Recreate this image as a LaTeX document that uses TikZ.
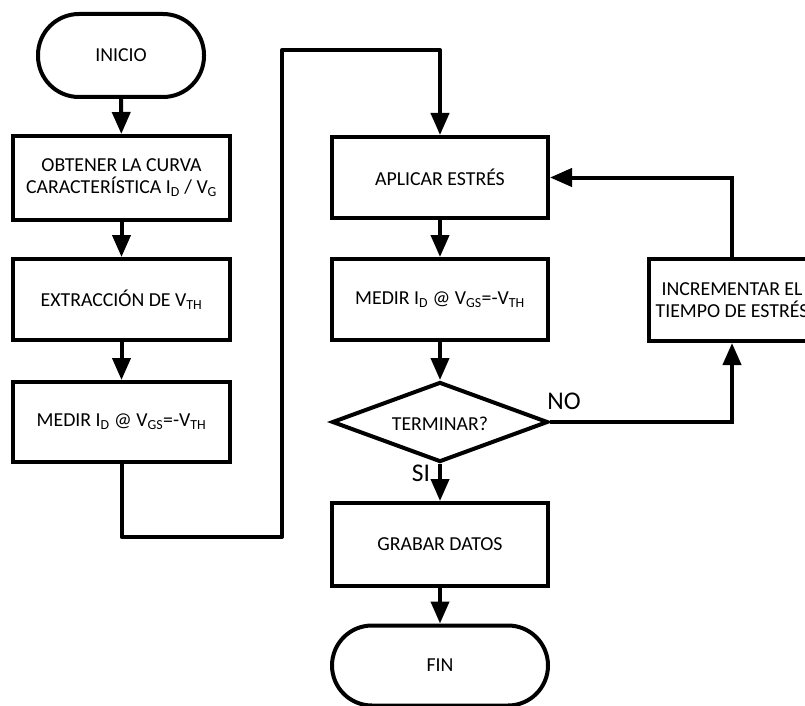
\documentclass[tikz,border=0pt]{standalone}
\usepackage{fontspec}
\setmainfont{Carlito}
\usetikzlibrary{shapes.geometric,arrows.meta}
\begin{document}
\begin{tikzpicture}[x=1pt,y=-1pt,
  every node/.style={font=\fontsize{19.8}{22}\selectfont},
  box/.style={draw,line width=4pt,minimum width=216pt,minimum height=81pt,inner sep=0pt,align=center},
  term/.style={draw,line width=4pt,rounded corners=40pt,minimum width=216pt,minimum height=80pt,inner sep=0pt},
  decision/.style={draw,line width=4pt,diamond,aspect=2.7,minimum width=216pt,minimum height=80pt,inner sep=0pt},
  branch/.style={font=\fontsize{25.5}{28}\selectfont,inner sep=0pt},
  flow/.style={line width=4pt,-{Triangle[length=22pt,width=18pt]}},
  wire/.style={line width=4pt}]
\useasboundingbox (0,0) rectangle (805,706);
\clip (0,0) rectangle (805,706);

% left column
\node[term,minimum width=166pt,minimum height=83pt,rounded corners=41pt] (inicio) at (121,55.5) {INICIO};
\node[box,minimum width=217pt,minimum height=84pt] (curva) at (121.5,178)
  {OBTENER LA CURVA\\CARACTERÍSTICA I\textsubscript{D} / V\textsubscript{G}};
\node[box,minimum width=217pt] (vth) at (121.5,299.5) {EXTRACCIÓN DE V\textsubscript{TH}};
\node[box,minimum width=217pt,minimum height=80pt] (medir1) at (121.5,422)
  {MEDIR I\textsubscript{D} @ V\textsubscript{GS}=-V\textsubscript{TH}};

% middle column
\node[box] (estres) at (440,177.5) {APLICAR ESTRÉS};
\node[box] (medir2) at (440,299.5)
  {MEDIR I\textsubscript{D} @ V\textsubscript{GS}=-V\textsubscript{TH}};
\node[decision] (fin?) at (440,422) {};
\node at (440,424) {TERMINAR?};
\node[box,minimum height=83pt] (grabar) at (440,544.5) {GRABAR DATOS};
\node[term] (fin) at (440,665.5) {FIN};

% loop box
\node[box,minimum width=166pt,minimum height=82pt] (incr) at (732,300)
  {INCREMENTAR EL\\TIEMPO DE ESTRÉS};

% connectors
\draw[flow] (inicio) -- (curva);
\draw[flow] (curva) -- (vth);
\draw[flow] (vth) -- (medir1);
\coordinate (c1) at (121.5,537);
\coordinate (c2) at (282,537);
\coordinate (c3) at (282,50);
\coordinate (c4) at (440,50);
\draw[flow,line join=round] (medir1.south) -- (c1) -- (c2) -- (c3) -- (c4) -- (estres.north);
\draw[flow] (estres) -- (medir2);
\draw[flow] (medir2) -- (fin?.north);
\draw[flow] (fin?.south) -- (grabar.north);
\draw[flow] (grabar) -- (fin);
\draw[flow] (fin?.east) -| (incr.south);
\draw[flow] (incr.north) |- (estres.east);

\node[branch] (no) at (564,401) {NO};
\node[branch] (si) at (421,473) {SI};
\end{tikzpicture}
\end{document}
